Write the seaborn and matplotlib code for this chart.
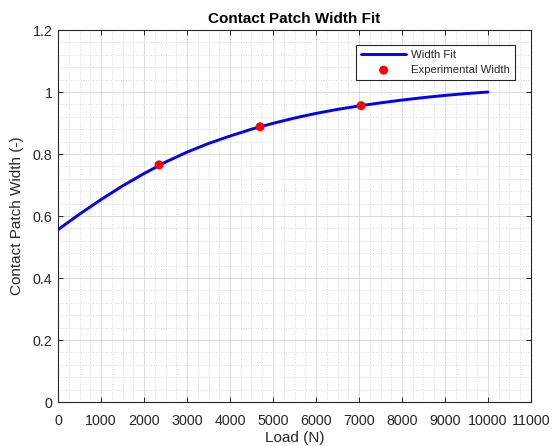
import numpy as np
import pandas as pd
import matplotlib
matplotlib.use("Agg")
import matplotlib.pyplot as plt
from matplotlib.ticker import MultipleLocator, FixedLocator, FuncFormatter
import seaborn as sns

# Fitted width curve (normalised), sampled every 500 N
fit_load = [0, 500, 1000, 1500, 2000, 2500, 3000, 3500, 4000, 4500, 5000,
            5500, 6000, 6500, 7000, 7500, 8000, 8500, 9000, 9500, 10000]
fit_width = [0.556, 0.606, 0.653, 0.697, 0.737, 0.774, 0.806, 0.834, 0.858,
             0.880, 0.899, 0.916, 0.931, 0.944, 0.955, 0.965, 0.974, 0.982,
             0.989, 0.995, 1.000]

# Measured widths
exp_load = [2350, 4700, 7050]
exp_width = [0.765, 0.888, 0.956]

x_ticks = list(range(0, 11001, 1000))
y_ticks = [0, 0.2, 0.4, 0.6, 0.8, 1.0, 1.2]

sns.set_theme(style="white")
plt.rcParams["font.family"] = ["Liberation Sans", "DejaVu Sans"]

ink = "#262626"
fig = plt.figure(figsize=(5.53, 4.46), dpi=100)
ax = fig.add_axes([58 / 553, 1 - 402 / 446, 473 / 553, 372 / 446])

fit_df = pd.DataFrame({"load": fit_load, "width": fit_width})
exp_df = pd.DataFrame({"load": exp_load, "width": exp_width})

sns.lineplot(data=fit_df, x="load", y="width", ax=ax, color=(0, 0, 1),
             linewidth=2.1, label="Width Fit", zorder=3)
sns.scatterplot(data=exp_df, x="load", y="width", ax=ax, color=(1, 0, 0),
                s=42, edgecolor="none", label="Experimental Width", zorder=4)

ax.set_xlim(0, 11000)
ax.set_ylim(0, 1.2)
ax.xaxis.set_major_locator(FixedLocator(x_ticks))
ax.yaxis.set_major_locator(FixedLocator(y_ticks))
ax.xaxis.set_minor_locator(MultipleLocator(250))
ax.yaxis.set_minor_locator(MultipleLocator(0.04))
ax.xaxis.set_major_formatter(FuncFormatter(lambda v, p: f"{v:g}"))
ax.yaxis.set_major_formatter(FuncFormatter(lambda v, p: f"{v:g}"))

ax.grid(True, which="major", color="#dcdcdc", linewidth=0.7, linestyle="-")
ax.grid(True, which="minor", color="#cfcfcf", linewidth=0.6, linestyle=(0, (1, 2)))
ax.set_axisbelow(True)

for side in ["top", "right", "bottom", "left"]:
    ax.spines[side].set_visible(True)
    ax.spines[side].set_color(ink)
    ax.spines[side].set_linewidth(0.8)

ax.tick_params(which="major", direction="in", length=3.5, width=0.7,
               color=ink, labelcolor=ink, labelsize=10.3,
               top=True, right=True, bottom=True, left=True)
ax.tick_params(which="minor", length=0)
ax.tick_params(axis="x", which="major", pad=8.5)
ax.tick_params(axis="y", which="major", pad=4)

ax.set_xlabel("Load (N)", fontsize=11, color=ink, labelpad=2)
ax.set_ylabel("Contact Patch Width (-)", fontsize=11, color=ink, labelpad=6)
ax.set_title("Contact Patch Width Fit", fontsize=11, fontweight="bold",
             color="black", pad=5)

leg = ax.legend(loc="upper right", bbox_to_anchor=(0.966, 0.960),
                borderaxespad=0, fontsize=8.2, frameon=True, fancybox=False,
                handlelength=3.9, handletextpad=0.45, borderpad=0.45,
                labelspacing=0.45)
leg.get_frame().set_edgecolor(ink)
leg.get_frame().set_linewidth(0.8)
leg.get_frame().set_facecolor("white")
leg.get_frame().set_alpha(1)

fig.savefig("out.png", dpi=100)
